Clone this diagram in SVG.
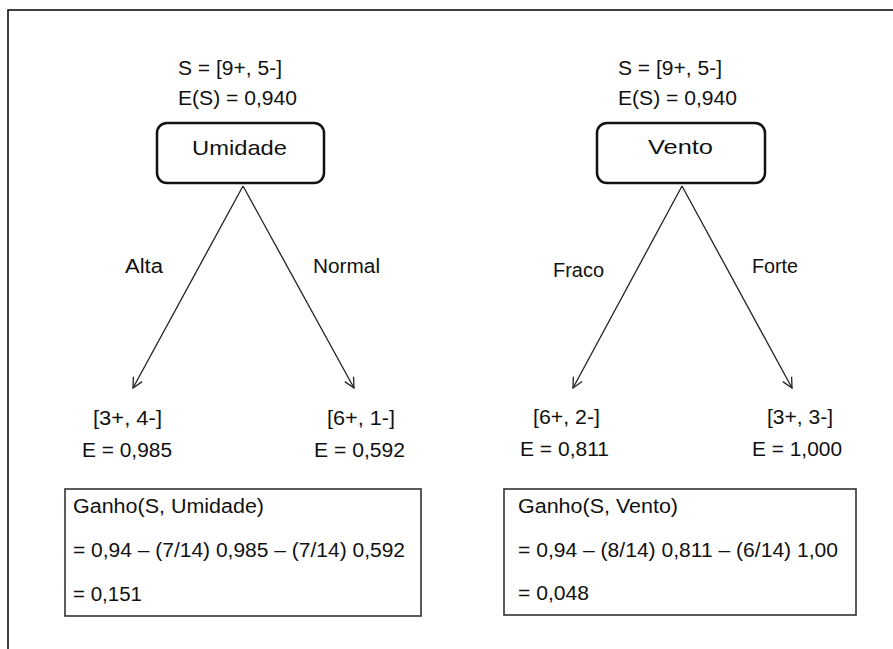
<svg xmlns="http://www.w3.org/2000/svg" width="893" height="649" viewBox="0 0 893 649">
  <style>
    text { font-family: "Liberation Sans", Arial, sans-serif; font-size: 20px; fill: #111; }
    .label { font-size: 21px; }
    .node { fill: #fff; stroke: #111; stroke-width: 2.5; }
    .calc { fill: #fff; stroke: #333; stroke-width: 1.6; }
    .edge { fill: none; stroke: #222; stroke-width: 1.3; marker-end: url(#arrow); }
    .frame { fill: none; stroke: #111; stroke-width: 1.6; }
  </style>
  <defs>
    <marker id="arrow" viewBox="0 0 12 12" refX="11" refY="6" markerWidth="12" markerHeight="12" markerUnits="userSpaceOnUse" orient="auto">
      <path d="M1,1 L11,6 L1,11" fill="none" stroke="#222" stroke-width="1.3"/>
    </marker>
  </defs>

  <rect width="893" height="649" fill="#fff"/>
  <!-- outer frame (right and bottom edges run off the page) -->
  <rect class="frame" x="8" y="10" width="900" height="660"/>

  <!-- connectors -->
  <g id="connectors">
    <line class="edge" x1="243" y1="186" x2="133" y2="388"/>
    <line class="edge" x1="243" y1="186" x2="354" y2="388"/>
    <line class="edge" x1="682" y1="186" x2="573" y2="388"/>
    <line class="edge" x1="682" y1="186" x2="792" y2="388"/>
    <text x="125" y="273" textLength="38" lengthAdjust="spacingAndGlyphs">Alta</text>
    <text x="313" y="273" textLength="67" lengthAdjust="spacingAndGlyphs">Normal</text>
    <text x="553" y="277" textLength="51" lengthAdjust="spacingAndGlyphs">Fraco</text>
    <text x="752" y="273" textLength="46" lengthAdjust="spacingAndGlyphs">Forte</text>
  </g>

  <!-- Umidade split -->
  <g id="umidade">
    <text x="178" y="75" textLength="104" lengthAdjust="spacingAndGlyphs">S = [9+, 5-]</text>
    <text x="178" y="105" textLength="119" lengthAdjust="spacingAndGlyphs">E(S) = 0,940</text>
    <rect class="node" x="157" y="123" width="167" height="60" rx="10"/>
    <text class="label" x="192" y="155" textLength="95" lengthAdjust="spacingAndGlyphs">Umidade</text>
  </g>
  <g id="umidade-alta">
    <text x="93" y="425" textLength="69" lengthAdjust="spacingAndGlyphs">[3+, 4-]</text>
    <text x="82" y="457" textLength="90" lengthAdjust="spacingAndGlyphs">E = 0,985</text>
  </g>
  <g id="umidade-normal">
    <text x="327" y="425" textLength="68" lengthAdjust="spacingAndGlyphs">[6+, 1-]</text>
    <text x="314" y="457" textLength="91" lengthAdjust="spacingAndGlyphs">E = 0,592</text>
  </g>
  <g id="ganho-umidade">
    <rect class="calc" x="65" y="489" width="356" height="127"/>
    <text x="73" y="513" textLength="191" lengthAdjust="spacingAndGlyphs">Ganho(S, Umidade)</text>
    <text x="73" y="557" textLength="332" lengthAdjust="spacingAndGlyphs">= 0,94 – (7/14) 0,985 – (7/14) 0,592</text>
    <text x="73" y="601" textLength="69" lengthAdjust="spacingAndGlyphs">= 0,151</text>
  </g>

  <!-- Vento split -->
  <g id="vento">
    <text x="618" y="75" textLength="104" lengthAdjust="spacingAndGlyphs">S = [9+, 5-]</text>
    <text x="618" y="105" textLength="119" lengthAdjust="spacingAndGlyphs">E(S) = 0,940</text>
    <rect class="node" x="597" y="123" width="168" height="60" rx="10"/>
    <text class="label" x="648" y="154" textLength="65" lengthAdjust="spacingAndGlyphs">Vento</text>
  </g>
  <g id="vento-fraco">
    <text x="533" y="424" textLength="67" lengthAdjust="spacingAndGlyphs">[6+, 2-]</text>
    <text x="520" y="456" textLength="89" lengthAdjust="spacingAndGlyphs">E = 0,811</text>
  </g>
  <g id="vento-forte">
    <text x="767" y="424" textLength="66" lengthAdjust="spacingAndGlyphs">[3+, 3-]</text>
    <text x="752" y="456" textLength="90" lengthAdjust="spacingAndGlyphs">E = 1,000</text>
  </g>
  <g id="ganho-vento">
    <rect class="calc" x="504" y="489" width="352" height="126"/>
    <text x="518" y="513" textLength="160" lengthAdjust="spacingAndGlyphs">Ganho(S, Vento)</text>
    <text x="518" y="557" textLength="320" lengthAdjust="spacingAndGlyphs">= 0,94 – (8/14) 0,811 – (6/14) 1,00</text>
    <text x="518" y="600" textLength="71" lengthAdjust="spacingAndGlyphs">= 0,048</text>
  </g>
</svg>
